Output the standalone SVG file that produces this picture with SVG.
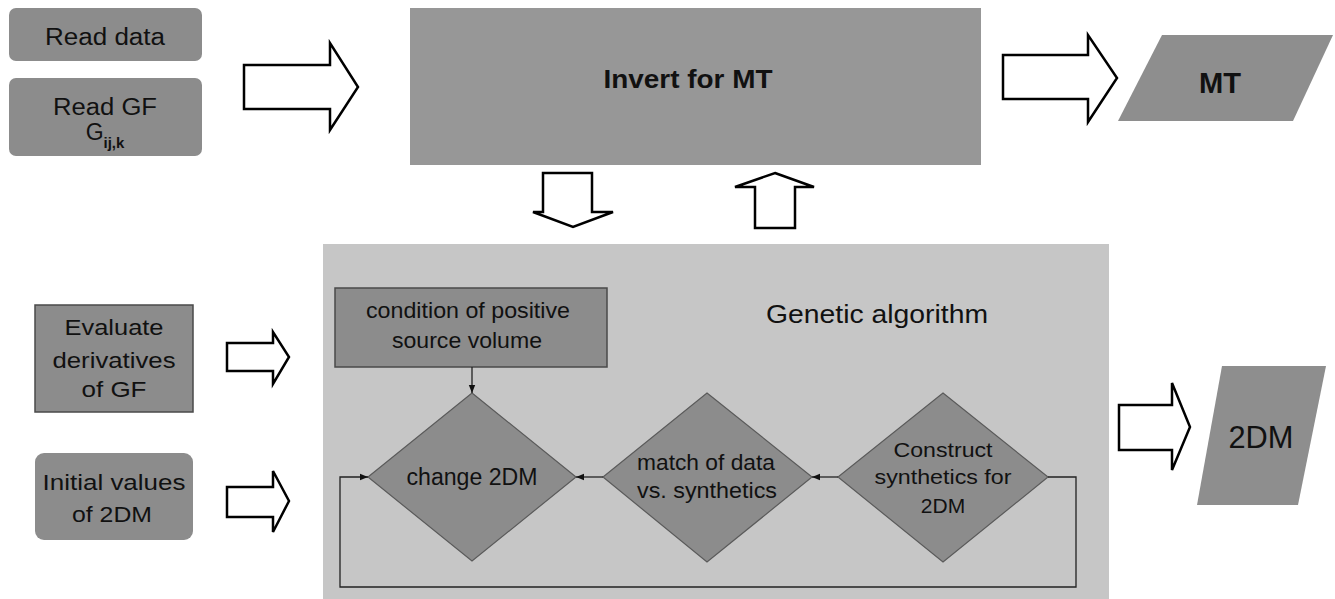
<svg xmlns="http://www.w3.org/2000/svg" width="1335" height="599" viewBox="0 0 1335 599">
<defs>
<style>
.t{font-family:"Liberation Sans",Arial,sans-serif;fill:#111;text-anchor:middle}
.b{font-weight:bold}
.box{fill:#8c8c8c}
.sq{fill:#8c8c8c;stroke:#4a4a4a;stroke-width:1.5}
.dia{fill:#8c8c8c;stroke:#5a5a5a;stroke-width:1.2}
.bigarrow{fill:#fff;stroke:#000;stroke-width:2.5;stroke-linejoin:miter}
.conn{fill:none;stroke:#222;stroke-width:1.3}
</style>
<marker id="ah" viewBox="0 0 10 10" refX="10" refY="5" markerWidth="8" markerHeight="8" markerUnits="userSpaceOnUse" orient="auto">
<path d="M0,1 L10,5 L0,9 Z" fill="#111"/>
</marker>
</defs>
<rect width="1335" height="599" fill="#fff"/>

<g id="ga-container">
<rect x="323" y="244" width="786" height="355" fill="#c6c6c6"/>
<text class="t" x="877" y="323" font-size="26" textLength="222" lengthAdjust="spacingAndGlyphs">Genetic algorithm</text>
</g>

<g id="read-data">
<rect class="box" x="9" y="8" width="193" height="53" rx="7"/>
<text class="t" x="105" y="45" font-size="23" textLength="120" lengthAdjust="spacingAndGlyphs">Read data</text>
</g>

<g id="read-gf">
<rect class="box" x="9" y="78" width="193" height="78" rx="7"/>
<text class="t" x="105" y="115" font-size="23" textLength="104" lengthAdjust="spacingAndGlyphs">Read GF</text>
<text class="t" x="105" y="140" font-size="23">G<tspan class="b" font-size="15" dy="8">ij,k</tspan></text>
</g>

<g id="invert-mt">
<rect x="410" y="8" width="571" height="157" fill="#979797"/>
<text class="t b" x="688" y="88" font-size="26" textLength="169" lengthAdjust="spacingAndGlyphs">Invert for MT</text>
</g>

<g id="mt-out">
<polygon points="1162,35 1333,35 1293,121 1118,121" fill="#8e8e8e"/>
<text class="t b" x="1220" y="93" font-size="30" textLength="42" lengthAdjust="spacingAndGlyphs">MT</text>
</g>

<g id="evaluate">
<rect class="sq" x="35" y="305" width="158" height="107"/>
<text class="t" x="114" y="335" font-size="22" textLength="99" lengthAdjust="spacingAndGlyphs">Evaluate</text>
<text class="t" x="114" y="368" font-size="22" textLength="123" lengthAdjust="spacingAndGlyphs">derivatives</text>
<text class="t" x="114" y="397" font-size="22" textLength="65" lengthAdjust="spacingAndGlyphs">of GF</text>
</g>

<g id="initial">
<rect class="box" x="35" y="453" width="158" height="87" rx="9"/>
<text class="t" x="114" y="490" font-size="22" textLength="143" lengthAdjust="spacingAndGlyphs">Initial values</text>
<text class="t" x="112" y="522" font-size="22" textLength="80" lengthAdjust="spacingAndGlyphs">of 2DM</text>
</g>

<g id="condition">
<rect class="sq" x="335" y="288" width="272" height="79"/>
<text class="t" x="468" y="318" font-size="22" textLength="204" lengthAdjust="spacingAndGlyphs">condition of positive</text>
<text class="t" x="467" y="348" font-size="22" textLength="150" lengthAdjust="spacingAndGlyphs">source volume</text>
</g>

<g id="change-2dm">
<polygon class="dia" points="472,393 576,477 472,561 368,477"/>
<text class="t" x="472" y="485" font-size="23" textLength="131" lengthAdjust="spacingAndGlyphs">change 2DM</text>
</g>

<g id="match">
<polygon class="dia" points="707,393 812,477 707,562 603,477"/>
<text class="t" x="706" y="470" font-size="22" textLength="138" lengthAdjust="spacingAndGlyphs">match of data</text>
<text class="t" x="707" y="498" font-size="22" textLength="140" lengthAdjust="spacingAndGlyphs">vs. synthetics</text>
</g>

<g id="construct">
<polygon class="dia" points="943,393 1048,477 943,562 838,477"/>
<text class="t" x="943" y="457" font-size="21" textLength="99" lengthAdjust="spacingAndGlyphs">Construct</text>
<text class="t" x="943" y="484" font-size="21" textLength="137" lengthAdjust="spacingAndGlyphs">synthetics for</text>
<text class="t" x="943" y="513" font-size="21">2DM</text>
</g>

<g id="out-2dm">
<polygon points="1222,366 1326,366 1298,505 1197,505" fill="#8e8e8e"/>
<text class="t" x="1261" y="448" font-size="31" textLength="65" lengthAdjust="spacingAndGlyphs">2DM</text>
</g>

<g id="connectors">
<polygon class="bigarrow" points="244,65 330,65 330,43 358,87 330,130 330,109 244,109"/>
<polygon class="bigarrow" points="1003,55 1088,55 1088,35 1117,78 1088,122 1088,99 1003,99"/>
<polygon class="bigarrow" points="543,173 592,173 592,212 613,212 573,227 533,212 543,212"/>
<polygon class="bigarrow" points="775,173 814,187 795,187 795,228 755,228 755,187 735,187"/>
<polygon class="bigarrow" points="227,343 273,343 273,332 289,357 273,384 273,371 227,371"/>
<polygon class="bigarrow" points="227,487 273,487 273,471 289,501 273,532 273,517 227,517"/>
<polygon class="bigarrow" points="1119,405 1172,405 1172,383 1190,427 1172,470 1172,450 1119,450"/>
<line class="conn" x1="472" y1="367" x2="472" y2="393" marker-end="url(#ah)"/>
<line class="conn" x1="603" y1="477" x2="576" y2="477" marker-end="url(#ah)"/>
<line class="conn" x1="838" y1="477" x2="812" y2="477" marker-end="url(#ah)"/>
<polyline class="conn" points="1048,477 1076,477 1076,587 340,587 340,477 368,477" marker-end="url(#ah)"/>
</g>
</svg>
